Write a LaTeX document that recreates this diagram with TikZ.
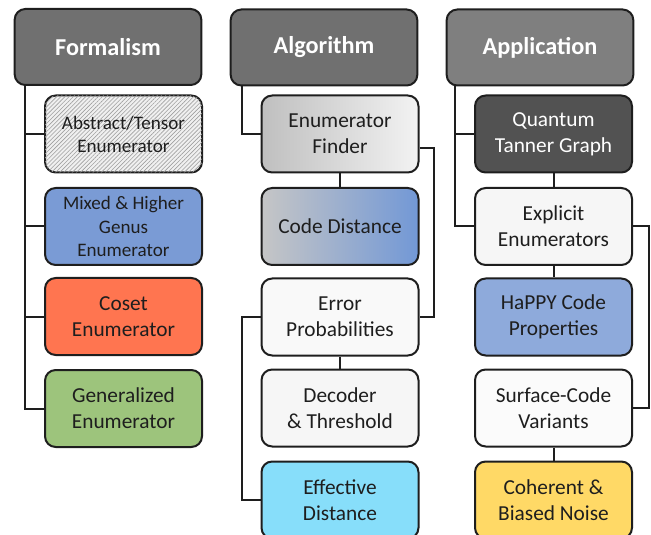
\documentclass[tikz,border=0pt]{standalone}
\usepackage{fontspec}
\setmainfont{Carlito}
\usetikzlibrary{patterns.meta}

\definecolor{headgray}{RGB}{112,112,112}
\definecolor{headlight}{RGB}{127,127,127}
\definecolor{edge}{RGB}{30,30,30}
\definecolor{mixedblue}{RGB}{122,155,213}
\definecolor{cosetred}{RGB}{255,117,80}
\definecolor{genergreen}{RGB}{157,196,124}
\definecolor{distblue}{RGB}{114,152,214}
\definecolor{effcyan}{RGB}{135,222,250}
\definecolor{tannergray}{RGB}{82,82,82}
\definecolor{happyblue}{RGB}{142,170,219}
\definecolor{noiseyellow}{RGB}{255,217,102}

\begin{document}
\begin{tikzpicture}[
    x=0.75pt, y=-0.75pt,
    head/.style={draw=edge, line width=1.5pt, rounded corners=8pt, fill=headgray, text=white,
        minimum width=140pt, minimum height=57pt, font=\bfseries\fontsize{18.2}{21}\selectfont},
    box/.style={draw=edge, line width=1.5pt, rounded corners=8pt, fill=white!96!black, text=edge,
        minimum width=117.75pt, minimum height=57.75pt, align=center, font=\fontsize{16}{19.3}\selectfont},
    small/.style={font=\fontsize{14.3}{17.3}\selectfont},
    link/.style={line width=1.5pt, draw=edge}
]
    \useasboundingbox (0,0) rectangle (651,535);
    \clip (0,0) rectangle (651,535);

    % Headers
    \node[head] (form) at (108,47) {Formalism};
    \node[head] (alg) at (324,47.5) {Algorithm};
    \node[head, fill=headlight] (app) at (540,47.5) {Application};

    % Formalism column
    \node[box, small, fill=gray!12, postaction={pattern={Lines[angle=45,distance=2.2pt,line width=0.45pt]}, pattern color=gray!75}] (abs) at (123.5,134) {Abstract/Tensor\\Enumerator};
    \node[box, small, fill=mixedblue] (mixed) at (123.5,226.5) {Mixed \& Higher\\Genus\\Enumerator};
    \node[box, fill=cosetred] (coset) at (123.5,316.5) {Coset\\Enumerator};
    \node[box, fill=genergreen] (gen) at (123.5,408.5) {Generalized\\Enumerator};

    % Algorithm column
    \node[box, left color=gray!50, right color=gray!10] (finder) at (340,134) {Enumerator\\Finder};
    \node[box, left color=gray!45, right color=distblue] (dist) at (340,226.5) {Code Distance};
    \node[box, fill=gray!5] (err) at (340,317) {Error\\Probabilities};
    \node[box, fill=gray!7] (dec) at (340,408) {Decoder\\\& Threshold};
    \node[box, fill=effcyan] (eff) at (340,500) {Effective\\Distance};

    % Application column
    \node[box, fill=tannergray, text=white] (tanner) at (553.5,134) {Quantum\\Tanner Graph};
    \node[box, fill=gray!7] (expl) at (553.5,226.5) {Explicit\\Enumerators};
    \node[box, fill=happyblue] (happy) at (553.5,317) {HaPPY Code\\Properties};
    \node[box, fill=gray!3] (surf) at (553.5,408) {Surface-Code\\Variants};
    \node[box, fill=noiseyellow] (noise) at (553.5,500) {Coherent \&\\Biased Noise};

    % Formalism links
    \draw[link] (form.south west) ++(11,0) |- (abs.west);
    \draw[link] (form.south west) ++(11,0) |- (mixed.west);
    \draw[link] (form.south west) ++(11,0) |- (coset.west);
    \draw[link] (form.south west) ++(11,0) |- (gen.west);

    % Algorithm links
    \draw[link] (alg.south west) ++(12,0) |- (finder.west);
    \draw[link] (finder) -- (dist);
    \draw[link] ([yshift=-10.5pt]finder.east) -- ++(14,0) |- (err.east);
    \draw[link] (err) -- (dec);
    \draw[link] (err.west) -- ++(-19,0) |- (eff.west);

    % Application links
    \draw[link] (app.south west) ++(9,0) |- (tanner.west);
    \draw[link] (app.south west) ++(9,0) |- (expl.west);
    \draw[link] (tanner) -- (expl);
    \draw[link] (expl) -- (happy);
    \draw[link] (expl.east) -- ++(16,0) |- (surf.east);
    \draw[link] (surf) -- (noise);
\end{tikzpicture}
\end{document}
